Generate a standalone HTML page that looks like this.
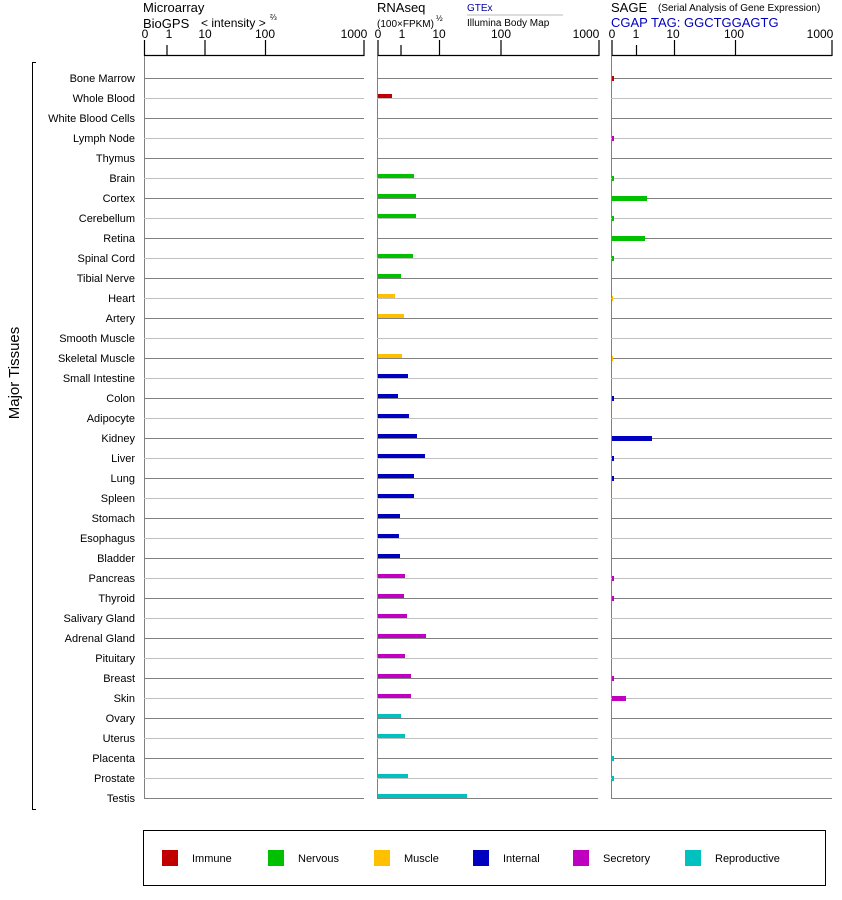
<!DOCTYPE html>
<html><head><meta charset="utf-8"><style>
body{margin:0;background:#fff}
svg{display:block;font-family:"Liberation Sans",Arial,sans-serif}
</style></head><body>
<svg width="842" height="900" viewBox="0 0 842 900" xmlns="http://www.w3.org/2000/svg">
<g font-size="13" fill="#000">
<text x="143" y="12">Microarray</text>
<text x="143" y="28">BioGPS</text>
<text x="201" y="27" font-size="12">&lt; intensity &gt;</text>
<text x="270" y="20" font-size="8">⅔</text>
<text x="377" y="12">RNAseq</text>
<text x="377" y="27" font-size="10">(100×FPKM)</text>
<text x="436" y="21" font-size="8">½</text>
<text x="467" y="11" font-size="10" fill="#0000a0">GTEx</text>
<line x1="467" y1="15" x2="563" y2="15" stroke="#bbb"/>
<text x="467" y="26" font-size="10">Illumina Body Map</text>
<text x="611" y="12">SAGE</text>
<text x="658" y="11" font-size="10">(Serial Analysis of Gene Expression)</text>
<text x="611" y="27" fill="#0000c0">CGAP TAG: GGCTGGAGTG</text>
</g>
<g stroke="#000" stroke-width="1.2" fill="none">
<path d="M144.5 55.5H364.5M144.5 40V56M167 45V56M205 40V56M265.5 40V56M364 40V56"/>
<path d="M378 55.5H599M378 40V56M401 45V56M439.5 40V56M501 40V56M599 40V56"/>
<path d="M612 55.5H832M612 40V56M636.5 45V56M674.5 40V56M735.5 40V56M832 40V56"/>
</g>
<g font-size="12" text-anchor="middle">
<text x="145" y="38">0</text><text x="169" y="38">1</text><text x="205" y="38">10</text><text x="265" y="38">100</text><text x="354" y="38">1000</text>
<text x="378" y="38">0</text><text x="402" y="38">1</text><text x="439" y="38">10</text><text x="501" y="38">100</text><text x="586" y="38">1000</text>
<text x="612" y="38">0</text><text x="636" y="38">1</text><text x="673" y="38">10</text><text x="734" y="38">100</text><text x="820" y="38">1000</text>
</g>
<g stroke="#808080"><line x1="144.5" y1="56" x2="144.5" y2="799"/><line x1="377.5" y1="56" x2="377.5" y2="799"/><line x1="611.5" y1="56" x2="611.5" y2="799"/></g>
<g stroke-width="1">
<g stroke="#808080">
<path d="M144 78.5H364M377 78.5H598M611 78.5H832M144 118.5H364M377 118.5H598M611 118.5H832M144 158.5H364M377 158.5H598M611 158.5H832M144 198.5H364M377 198.5H598M611 198.5H832M144 238.5H364M377 238.5H598M611 238.5H832M144 278.5H364M377 278.5H598M611 278.5H832M144 318.5H364M377 318.5H598M611 318.5H832M144 358.5H364M377 358.5H598M611 358.5H832M144 398.5H364M377 398.5H598M611 398.5H832M144 438.5H364M377 438.5H598M611 438.5H832M144 478.5H364M377 478.5H598M611 478.5H832M144 518.5H364M377 518.5H598M611 518.5H832M144 558.5H364M377 558.5H598M611 558.5H832M144 598.5H364M377 598.5H598M611 598.5H832M144 638.5H364M377 638.5H598M611 638.5H832M144 678.5H364M377 678.5H598M611 678.5H832M144 718.5H364M377 718.5H598M611 718.5H832M144 758.5H364M377 758.5H598M611 758.5H832M144 798.5H364M377 798.5H598M611 798.5H832"/>
</g>
<g stroke="#c0c0c0">
<path d="M144 98.5H364M377 98.5H598M611 98.5H832M144 138.5H364M377 138.5H598M611 138.5H832M144 178.5H364M377 178.5H598M611 178.5H832M144 218.5H364M377 218.5H598M611 218.5H832M144 258.5H364M377 258.5H598M611 258.5H832M144 298.5H364M377 298.5H598M611 298.5H832M144 338.5H364M377 338.5H598M611 338.5H832M144 378.5H364M377 378.5H598M611 378.5H832M144 418.5H364M377 418.5H598M611 418.5H832M144 458.5H364M377 458.5H598M611 458.5H832M144 498.5H364M377 498.5H598M611 498.5H832M144 538.5H364M377 538.5H598M611 538.5H832M144 578.5H364M377 578.5H598M611 578.5H832M144 618.5H364M377 618.5H598M611 618.5H832M144 658.5H364M377 658.5H598M611 658.5H832M144 698.5H364M377 698.5H598M611 698.5H832M144 738.5H364M377 738.5H598M611 738.5H832M144 778.5H364M377 778.5H598M611 778.5H832"/>
</g>
</g>
<g font-size="11" text-anchor="end">
<text x="135" y="82">Bone Marrow</text><text x="135" y="102">Whole Blood</text><text x="135" y="122">White Blood Cells</text><text x="135" y="142">Lymph Node</text><text x="135" y="162">Thymus</text><text x="135" y="182">Brain</text><text x="135" y="202">Cortex</text><text x="135" y="222">Cerebellum</text><text x="135" y="242">Retina</text><text x="135" y="262">Spinal Cord</text><text x="135" y="282">Tibial Nerve</text><text x="135" y="302">Heart</text><text x="135" y="322">Artery</text><text x="135" y="342">Smooth Muscle</text><text x="135" y="362">Skeletal Muscle</text><text x="135" y="382">Small Intestine</text><text x="135" y="402">Colon</text><text x="135" y="422">Adipocyte</text><text x="135" y="442">Kidney</text><text x="135" y="462">Liver</text><text x="135" y="482">Lung</text><text x="135" y="502">Spleen</text><text x="135" y="522">Stomach</text><text x="135" y="542">Esophagus</text><text x="135" y="562">Bladder</text><text x="135" y="582">Pancreas</text><text x="135" y="602">Thyroid</text><text x="135" y="622">Salivary Gland</text><text x="135" y="642">Adrenal Gland</text><text x="135" y="662">Pituitary</text><text x="135" y="682">Breast</text><text x="135" y="702">Skin</text><text x="135" y="722">Ovary</text><text x="135" y="742">Uterus</text><text x="135" y="762">Placenta</text><text x="135" y="782">Prostate</text><text x="135" y="802">Testis</text>
</g>
<path d="M36 62.5H32.5V809.5H36" stroke="#000" fill="none"/>
<text transform="translate(19 373) rotate(-90)" font-size="15" text-anchor="middle">Major Tissues</text>
<g>
<rect x="378" y="94" width="14" height="4" fill="#c00000"/>
<g fill="#00c000">
<rect x="378" y="174" width="36" height="4"/><rect x="378" y="194" width="38" height="4"/><rect x="378" y="214" width="38" height="4"/><rect x="378" y="254" width="35" height="4"/><rect x="378" y="274" width="23" height="4"/>
</g>
<g fill="#ffc000">
<rect x="378" y="294" width="17" height="4"/><rect x="378" y="314" width="26" height="4"/><rect x="378" y="354" width="24" height="4"/>
</g>
<g fill="#0000c0">
<rect x="378" y="374" width="30" height="4"/><rect x="378" y="394" width="20" height="4"/><rect x="378" y="414" width="31" height="4"/><rect x="378" y="434" width="39" height="4"/><rect x="378" y="454" width="47" height="4"/><rect x="378" y="474" width="36" height="4"/><rect x="378" y="494" width="36" height="4"/><rect x="378" y="514" width="22" height="4"/><rect x="378" y="534" width="21" height="4"/><rect x="378" y="554" width="22" height="4"/>
</g>
<g fill="#c000c0">
<rect x="378" y="574" width="27" height="4"/><rect x="378" y="594" width="26" height="4"/><rect x="378" y="614" width="29" height="4"/><rect x="378" y="634" width="48" height="4"/><rect x="378" y="654" width="27" height="4"/><rect x="378" y="674" width="33" height="4"/><rect x="378" y="694" width="33" height="4"/>
</g>
<g fill="#00c0c0">
<rect x="378" y="714" width="23" height="4"/><rect x="378" y="734" width="27" height="4"/><rect x="378" y="774" width="30" height="4"/><rect x="378" y="794" width="89" height="4"/>
</g>
</g>
<g>
<rect x="612" y="76" width="2" height="5" fill="#c00000"/>
<rect x="612" y="136" width="2" height="5" fill="#c000c0"/>
<g fill="#00c000">
<rect x="612" y="176" width="2" height="5"/><rect x="612" y="196" width="35" height="5"/><rect x="612" y="216" width="2" height="5"/><rect x="612" y="236" width="33" height="5"/><rect x="612" y="256" width="2" height="5"/>
</g>
<rect x="612" y="296" width="1" height="5" fill="#ffc000"/>
<rect x="612" y="356" width="1" height="5" fill="#ffc000"/>
<g fill="#0000c0">
<rect x="612" y="396" width="2" height="5"/><rect x="612" y="436" width="40" height="5"/><rect x="612" y="456" width="2" height="5"/><rect x="612" y="476" width="2" height="5"/>
</g>
<g fill="#c000c0">
<rect x="612" y="576" width="2" height="5"/><rect x="612" y="596" width="2" height="5"/><rect x="612" y="676" width="2" height="5"/><rect x="612" y="696" width="14" height="5"/>
</g>
<g fill="#00c0c0"><rect x="612" y="756" width="2" height="5"/><rect x="612" y="776" width="2" height="5"/></g>
</g>
<rect x="143.5" y="830.5" width="682" height="55" fill="none" stroke="#000"/>
<g font-size="11">
<rect x="162" y="850" width="16" height="16" fill="#c00000"/><text x="192" y="862">Immune</text>
<rect x="268" y="850" width="16" height="16" fill="#00c000"/><text x="298" y="862">Nervous</text>
<rect x="374" y="850" width="16" height="16" fill="#ffc000"/><text x="404" y="862">Muscle</text>
<rect x="473" y="850" width="16" height="16" fill="#0000c0"/><text x="503" y="862">Internal</text>
<rect x="573" y="850" width="16" height="16" fill="#c000c0"/><text x="603" y="862">Secretory</text>
<rect x="685" y="850" width="16" height="16" fill="#00c0c0"/><text x="715" y="862">Reproductive</text>
</g>
</svg>
</body></html>
